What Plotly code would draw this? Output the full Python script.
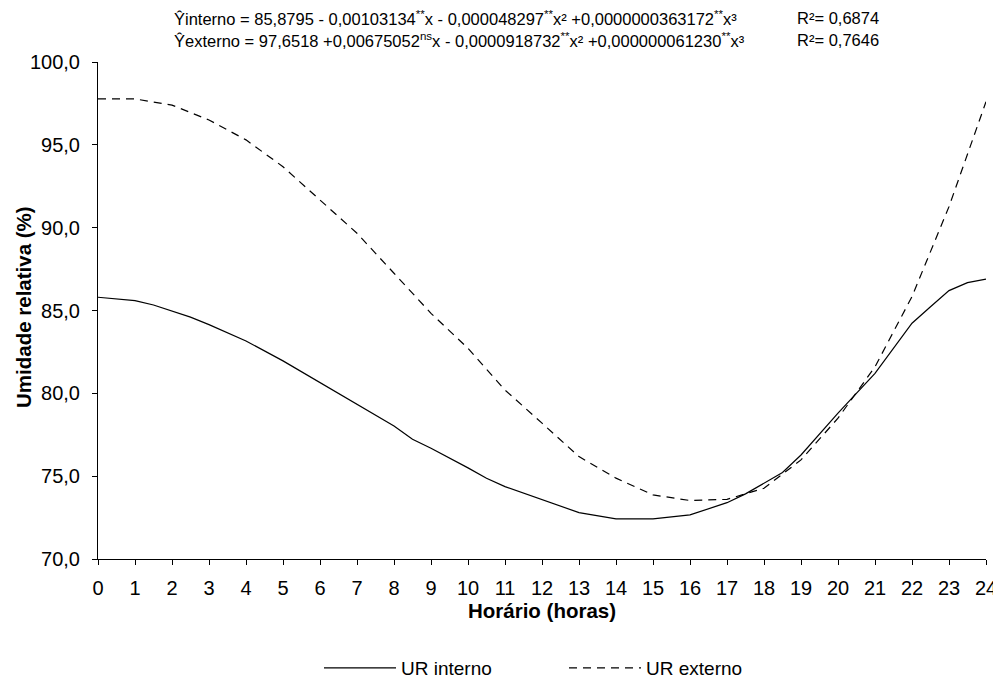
import plotly.graph_objects as go

# --- data ---
hora_interno = [0, 1, 1.5, 2.5, 3, 4, 5, 6, 7, 8, 8.5, 9, 10, 10.5, 11, 12, 13, 14, 15, 16,
                17, 17.5, 18.5, 19, 20, 21, 22, 22.5, 23, 23.5, 24]
ur_interno = [85.80, 85.60, 85.33, 84.60, 84.15, 83.16, 81.96, 80.65, 79.36, 78.03, 77.23, 76.68,
              75.50, 74.87, 74.37, 73.57, 72.80, 72.42, 72.42, 72.66,
              73.40, 73.93, 75.22, 76.28, 78.80, 81.21, 84.23, 85.23, 86.20, 86.68, 86.90]

hora_externo = list(range(0, 25))
ur_externo = [97.77, 97.77, 97.40, 96.50, 95.30, 93.68, 91.67, 89.66, 87.25, 84.83, 82.72, 80.20,
              78.20, 76.18, 74.88, 73.87, 73.53, 73.60, 74.27, 75.98, 78.50, 81.60, 85.84, 91.27, 97.60]

x_ticks = list(range(0, 25))
y_ticks = [70, 75, 80, 85, 90, 95, 100]

eq_interno = ("Ŷinterno = 85,8795 - 0,00103134<sup>**</sup>x - 0,000048297<sup>**</sup>x² "
              "+0,0000000363172<sup>**</sup>x³")
eq_externo = ("Ŷexterno = 97,6518 +0,00675052<sup>ns</sup>x - 0,0000918732<sup>**</sup>x² "
              "+0,000000061230<sup>**</sup>x³")
r2_interno = "R²= 0,6874"
r2_externo = "R²= 0,7646"
y_title = "<b>Umidade relativa (%)</b>"
x_title = "<b>Horário (horas)</b>"

FONT = "Liberation Sans, Arial, sans-serif"

fig = go.Figure()
fig.add_trace(go.Scatter(x=hora_interno, y=ur_interno, mode="lines", name="UR interno",
                         line=dict(color="#000000", width=1.2)))
fig.add_trace(go.Scatter(x=hora_externo, y=ur_externo, mode="lines", name="UR externo",
                         line=dict(color="#000000", width=1.2, dash="8px,6px")))

# the page body adds an 8px margin around the figure, so the figure is 8px smaller
OFF = 8
W, H = 1001 - OFF, 688 - OFF
PL, PT, PR, PB = 98, 62, 986, 559          # plot area in page pixels
L, T = PL - OFF, PT - OFF
R = W - (PR - OFF)
B = H - (PB - OFF)
pw = PR - PL
ph = PB - PT

def px_x(px):
    return (px - PL) / pw

def px_y(py):
    return 1 + (PT - py) / ph

annots = [
    dict(text=eq_interno, x=px_x(172), y=px_y(18)),
    dict(text=eq_externo, x=px_x(172), y=px_y(40)),
    dict(text=r2_interno, x=px_x(795), y=px_y(18)),
    dict(text=r2_externo, x=px_x(795), y=px_y(40)),
]
for a in annots:
    fig.add_annotation(text=a["text"], x=a["x"], y=a["y"], xref="paper", yref="paper",
                       xanchor="left", yanchor="middle", showarrow=False,
                       font=dict(family=FONT, size=16.5, color="#000000"))

fig.add_annotation(text=y_title, x=px_x(23), y=px_y(307), xref="paper", yref="paper",
                   xanchor="center", yanchor="middle", showarrow=False, textangle=-90,
                   font=dict(family=FONT, size=20.5, color="#000000"))

fig.update_layout(
    width=W, height=H,
    margin=dict(l=L, r=R, t=T, b=B, autoexpand=False),
    paper_bgcolor="white", plot_bgcolor="white",
    separators=",.",
    font=dict(family=FONT, color="#000000"),
    showlegend=True,
    legend=dict(orientation="h", x=px_x(319), xanchor="left", y=px_y(668), yanchor="middle",
                font=dict(family=FONT, size=19, color="#000000"), itemwidth=72,
                entrywidth=158, bgcolor="rgba(0,0,0,0)"),
    xaxis=dict(range=[0, 24], tickmode="array", tickvals=x_ticks,
               ticktext=[str(v) for v in x_ticks], automargin=False,
               showgrid=False, zeroline=False, showline=True, linecolor="#000000", linewidth=1,
               ticks="outside", ticklen=5, tickcolor="#000000", ticklabelstandoff=6,
               tickfont=dict(family=FONT, size=20, color="#000000"),
               title=dict(text=x_title, font=dict(family=FONT, size=20.5), standoff=4)),
    yaxis=dict(range=[70, 100], tickmode="array", tickvals=y_ticks, tickformat=".1f",
               automargin=False,
               showgrid=False, zeroline=False, showline=True, linecolor="#000000", linewidth=1,
               ticks="outside", ticklen=5, tickcolor="#000000", ticklabelstandoff=8,
               tickfont=dict(family=FONT, size=20, color="#000000")),
)

fig.write_html("out.html")
